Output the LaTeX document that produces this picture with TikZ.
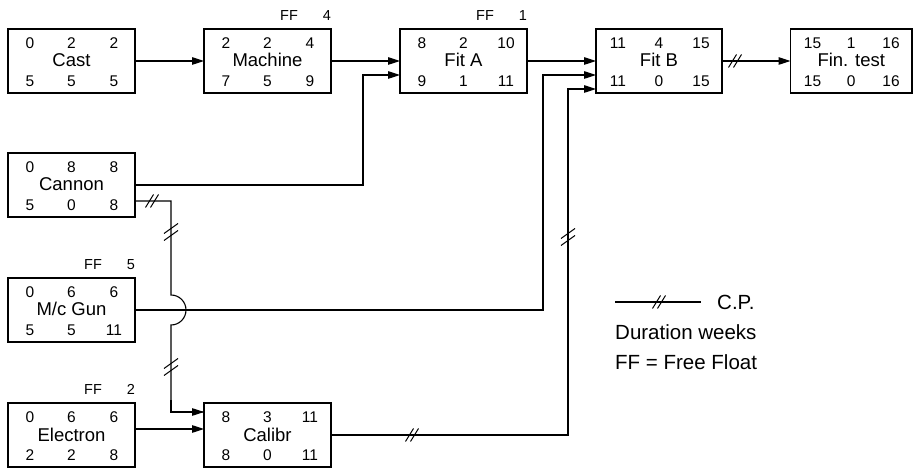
\documentclass[tikz,border=0pt]{standalone}
\usepackage{fontspec}
\setmainfont{Liberation Sans}
\usetikzlibrary{arrows.meta,calc}
\tikzset{
  actbox/.style={draw, line width=1.1pt, rectangle, anchor=north west, inner sep=0pt, outer sep=0pt, minimum height=64pt},
  num/.style={anchor=base, inner sep=0pt, font=\fontsize{15.5}{15.5}\selectfont},
  nm/.style={anchor=base, inner sep=0pt, font=\fontsize{18.5}{18.5}\selectfont},
  fflab/.style={anchor=base, inner sep=0pt, font=\fontsize{14.5}{14.5}\selectfont},
  leg/.style={anchor=base west, inner sep=0pt, font=\fontsize{20.5}{20.5}\selectfont},
  conn/.style={line width=1.1pt},
  arr/.style={conn, -{Triangle[length=12pt,width=7.5pt]}},
  markline/.style={line width=1pt},
  hmark/.pic={\draw[markline] (-6.5,6.5) -- (1.5,-6.5) (-1.5,6.5) -- (6.5,-6.5);},
  vmark/.pic={\draw[markline] (-7,1.5) -- (7,-8.5) (-7,8.5) -- (7,-1.5);}
}
\newcommand\act[5]{%
  \node[actbox, minimum width=#4] (#1) at (#2,#3) {};
  \node[nm] (#1-name) at ($(#1.north)+(0,38)$) {#5};
}
\newcommand\nums[7]{%
  \node[num] (#1-es) at ($(#1.north west)+(22,19.5)$) {#2};
  \node[num] (#1-d)  at ($(#1.north)+(0,19.5)$) {#3};
  \node[num] (#1-ef) at ($(#1.north east)+(-21,19.5)$) {#4};
  \node[num] (#1-ls) at ($(#1.north west)+(22,57.5)$) {#5};
  \node[num] (#1-f)  at ($(#1.north)+(0,57.5)$) {#6};
  \node[num] (#1-lf) at ($(#1.north east)+(-21,57.5)$) {#7};
}
\newcommand\ff[2]{%
  \node[fflab] (#1-ff) at ($(#1.north east)+(-42,-8.5)$) {FF};
  \node[fflab] (#1-ffv) at ($(#1.north east)+(-4,-8.5)$) {#2};
}
\begin{document}
\begin{tikzpicture}[x=1pt,y=-1pt]
\useasboundingbox (0,0) rectangle (913,470);
% activities
\act{cast}{8}{29}{127pt}{Cast}
\nums{cast}{0}{2}{2}{5}{5}{5}
\act{machine}{204}{29}{127pt}{Machine}
\nums{machine}{2}{2}{4}{7}{5}{9}
\ff{machine}{4}
\act{fita}{400}{29}{127pt}{Fit A}
\nums{fita}{8}{2}{10}{9}{1}{11}
\ff{fita}{1}
\act{fitb}{596}{29}{126pt}{Fit B}
\nums{fitb}{11}{4}{15}{11}{0}{15}
\act{fin}{790.5}{29}{121.5pt}{Fin. test}
\nums{fin}{15}{1}{16}{15}{0}{16}
\act{cannon}{8}{153}{127pt}{Cannon}
\nums{cannon}{0}{8}{8}{5}{0}{8}
\act{mcgun}{8}{278}{127pt}{M/c Gun}
\nums{mcgun}{0}{6}{6}{5}{5}{11}
\ff{mcgun}{5}
\act{electron}{8}{403}{127pt}{Electron}
\nums{electron}{0}{6}{6}{2}{2}{8}
\ff{electron}{2}
\act{calibr}{204}{403}{127pt}{Calibr}
\nums{calibr}{8}{3}{11}{8}{0}{11}
% connectors
\draw[arr] (cast) -- (machine);
\draw[arr] (machine) -- (fita);
\draw[arr] (fita) -- (fitb);
\draw[arr] (fitb) -- (fin);
\pic at ($(fitb.east)+(13,0)$) {hmark};
\draw[arr] (cannon.east) -| ($(fita.west)+(-37,14)$) -- ($(fita.west)+(0,14)$);
\draw[arr] (mcgun.east) -| ($(fitb.west)+(-53,14)$) -- ($(fitb.west)+(0,14)$);
\draw[arr] (calibr.east) -| ($(fitb.west)+(-28,28)$) -- ($(fitb.west)+(0,28)$);
\pic at ($(calibr.east)+(81,0)$) {hmark};
\pic at (568,237) {vmark};
\draw[arr] ($(electron.east)+(0,-6)$) -- ($(calibr.west)+(0,-6)$);
% cannon -> calibr with jump over M/c Gun line
\coordinate (jtop) at (171,295);
\coordinate (jbot) at (171,325);
\draw[conn] ($(cannon.east)+(0,16)$) -| (jtop)
  .. controls (179.3,295) and (186,301.7) .. (186,310)
  .. controls (186,318.3) and (179.3,325) .. (jbot)
  |- ($(calibr.west)+(0,-23)$);
\draw[arr] (171,400) |- ($(calibr.west)+(0,-23)$);
\pic at (152,201) {hmark};
\pic at (171,232) {vmark};
\pic at (171,367) {vmark};
% legend
\coordinate (l1) at (615,302);
\coordinate (l2) at (701,302);
\draw[conn] (l1) -- (l2);
\pic at (659,302) {hmark};
\node[leg] (cp) at (717,309) {C.P.};
\node[leg] (dur) at (615,339) {Duration weeks};
\node[leg] (ffl) at (615,369) {FF = Free Float};
\end{tikzpicture}
\end{document}
